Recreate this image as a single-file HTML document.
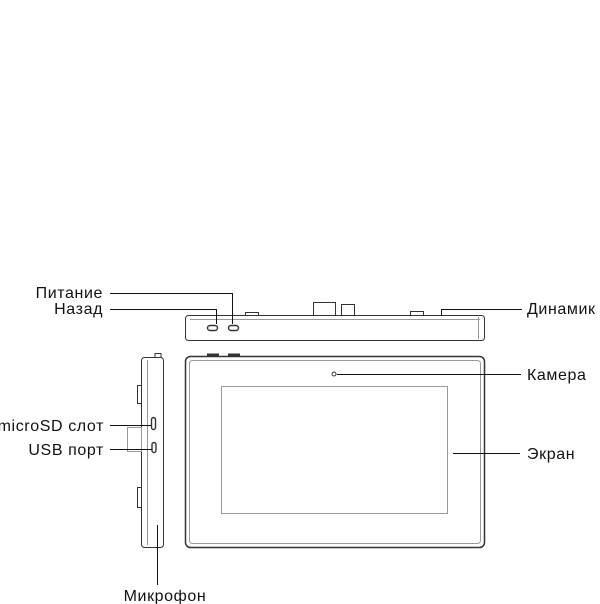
<!DOCTYPE html>
<html><head><meta charset="utf-8"><style>
html,body{margin:0;padding:0;background:#fff;width:600px;height:604px;overflow:hidden}
text{font-family:"Liberation Sans",sans-serif;font-size:16px;letter-spacing:0.6px;fill:#111}
</style></head><body>
<svg width="600" height="604" viewBox="0 0 600 604" xmlns="http://www.w3.org/2000/svg">
<g fill="none" stroke="#333" stroke-width="1">
<rect x="185.5" y="315.5" width="299" height="25" rx="3"/>
<line x1="190" y1="319.5" x2="480" y2="319.5" stroke="#999"/>
<line x1="478.5" y1="317" x2="478.5" y2="339" stroke="#999"/>
<rect x="313.5" y="302.5" width="22" height="13"/>
<rect x="341.5" y="304.5" width="13" height="11"/>
<rect x="245.5" y="312.5" width="13" height="3"/>
<rect x="410.5" y="311.5" width="13" height="4"/>
<rect x="207.5" y="325.5" width="10" height="5" rx="2.5" stroke-width="1.4"/>
<rect x="228.5" y="325.5" width="10" height="5" rx="2.5" stroke-width="1.4"/>
<rect x="185.5" y="356.5" width="299" height="191" rx="5" stroke-width="1.5"/>
<rect x="189.5" y="360.5" width="291" height="183" rx="3" stroke="#999"/>
<rect x="221.5" y="386.5" width="226" height="127" stroke="#999"/>
<circle cx="334" cy="374" r="2"/>
<rect x="207.5" y="354" width="11" height="2.5" fill="#333"/>
<rect x="228.5" y="354" width="11" height="2.5" fill="#333"/>
<rect x="141.5" y="357.5" width="22" height="190" rx="3"/>
<line x1="147.5" y1="360" x2="147.5" y2="545" stroke="#999"/>
<rect x="137.5" y="385.5" width="4" height="18"/>
<rect x="137.5" y="487.5" width="4" height="20"/>
<rect x="127.5" y="427.5" width="14" height="24" stroke="#999"/>
<rect x="151.5" y="417.5" width="4" height="12" rx="2" stroke-width="1.4"/>
<rect x="152" y="442.5" width="4" height="10" rx="2" stroke-width="1.4"/>
<rect x="155" y="353.5" width="6" height="4"/>
<g stroke="#111">
<polyline points="110,293.5 232.5,293.5 232.5,324"/>
<polyline points="110,309.5 216.5,309.5 216.5,324"/>
<polyline points="441.5,316 441.5,309.5 522,309.5"/>
<line x1="337" y1="374.5" x2="521" y2="374.5"/>
<line x1="453" y1="453.5" x2="520" y2="453.5"/>
<line x1="110" y1="425.5" x2="151" y2="425.5"/>
<line x1="110" y1="449.5" x2="152" y2="449.5"/>
<line x1="157.5" y1="525" x2="157.5" y2="585"/>
</g>
</g>
<text x="103" y="298" text-anchor="end">Питание</text>
<text x="103" y="314" text-anchor="end">Назад</text>
<text x="527" y="314">Динамик</text>
<text x="527" y="380">Камера</text>
<text x="527" y="459">Экран</text>
<text x="104" y="431" text-anchor="end">microSD слот</text>
<text x="104" y="455" text-anchor="end">USB порт</text>
<text x="165" y="601" text-anchor="middle">Микрофон</text>
</svg>
</body></html>
